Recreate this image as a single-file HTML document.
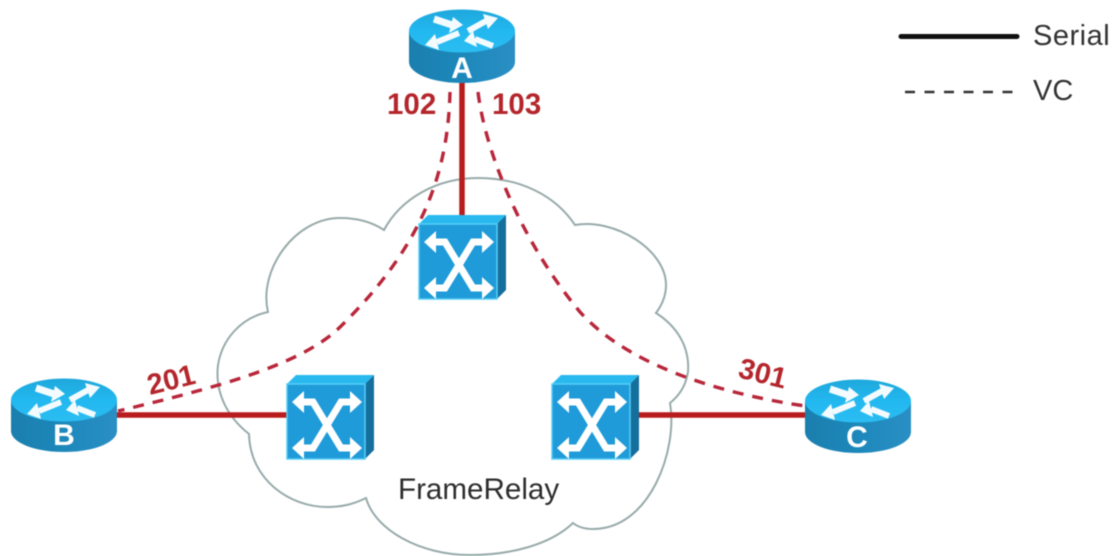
<!DOCTYPE html>
<html><head><meta charset="utf-8"><style>
html,body{margin:0;padding:0;background:#fff;width:1114px;height:556px;overflow:hidden}
svg{display:block;filter:blur(.6px)}
text{font-family:"Liberation Sans",sans-serif}
.r{font-size:29.5px;font-weight:bold;fill:#b4262c}
.w{font-size:30px;font-weight:bold;fill:#fff;text-anchor:middle}
.k{font-size:29px;fill:#333}
</style></head><body>
<svg width="1114" height="556" viewBox="0 0 1114 556" xmlns="http://www.w3.org/2000/svg">
<defs>
<linearGradient id="rt" x1="0" y1="0" x2="0" y2="1"><stop offset="0" stop-color="#1fa8dc"/><stop offset=".5" stop-color="#22b8f0"/><stop offset="1" stop-color="#2bbdf2"/></linearGradient>
<linearGradient id="rs" x1="0" y1="0" x2="1" y2="0"><stop offset="0" stop-color="#1b7fae"/><stop offset=".5" stop-color="#1d88bb"/><stop offset="1" stop-color="#2a8fc4"/></linearGradient>
<g id="router">
<path d="M-53,0 V31 A53,21 0 0 0 53,31 V0 Z" fill="url(#rs)"/>
<ellipse cx="0" cy="0" rx="53" ry="21.5" fill="url(#rt)"/>
<g fill="#f4fbff" stroke="#f4fbff">
<path d="M-28,-12 L-10,-6" stroke-width="7" fill="none"/>
<polygon points="1,-6 -13,2 -9,-14" stroke="none"/>
<path d="M6,0 L24,-10" stroke-width="6" fill="none"/>
<polygon points="36,-13 26,-2 21,-17" stroke="none"/>
<path d="M-25,11 L-3,2" stroke-width="6" fill="none"/>
<polygon points="-37,14 -23,19 -27,3" stroke="none"/>
<path d="M13,8 L31,15" stroke-width="6" fill="none"/>
<polygon points="2,10 15,16 11,0" stroke="none"/>
</g>
</g>
<g id="switch">
<polygon points="0,0 9,-9 87,-9 78,0" fill="#29b9ef"/>
<polygon points="78,0 87,-9 87,66 78,75" fill="#146f9d"/>
<rect x="0" y="0" width="78" height="75" fill="#1f9bd9" stroke="#56cdf5" stroke-width="1.5"/>
<path d="M12,18 H26 L40,41 L54,64 H68 M12,64 H26 L40,41 L54,18 H68" fill="none" stroke="#fff" stroke-width="7" stroke-linejoin="miter"/>
<g fill="#fff">
<polygon points="5,18 17,7 17,29"/>
<polygon points="75,18 63,7 63,29"/>
<polygon points="5,64 17,53 17,75"/>
<polygon points="75,64 63,53 63,75"/>
</g>
</g>
</defs>
<rect width="1114" height="556" fill="#fff"/>
<path d="M384,230 C400,200 435,178 478,178 C520,178 555,195 575,225 C615,218 666,250 666,285 C666,295 662,305 656,313 C675,325 690,345 688,372 C686,385 680,395 670,403 C678,450 650,529 593,529 C585,529 578,527 573,523 C550,545 510,555 470,555 C420,555 375,530 366,498 C352,505 340,507 327,507 C290,507 250,480 249,434 C225,415 215,390 218,365 C222,340 240,318 268,312 C258,270 295,218 340,218 C358,218 372,222 384,230 Z" fill="#fff" stroke="#98aaaa" stroke-width="2"/>
<g fill="none" stroke="#b8263a" stroke-width="3.4" stroke-dasharray="11 9">
<path d="M450,92 C448,170 425,245 337,330 C297,366 215,388 118,411"/>
<path d="M478,92 C485,150 520,240 580,312 C625,362 710,392 805,406"/>
</g>
<g stroke="#b91c1c" stroke-width="5.5" fill="none">
<path d="M462,80 V216"/>
<path d="M116,415 H288"/>
<path d="M638,415 H806"/>
</g>
<use href="#router" x="462" y="31"/>
<use href="#router" x="64" y="400"/>
<use href="#router" x="858" y="401"/>
<use href="#switch" x="419" y="224"/>
<use href="#switch" x="287" y="384"/>
<use href="#switch" x="552" y="384"/>
<text class="w" x="462" y="78">A</text>
<text class="w" x="64" y="445">B</text>
<text class="w" x="857" y="447">C</text>
<text class="r" x="387" y="114">102</text>
<text class="r" x="492" y="114">103</text>
<text class="r" x="0" y="0" style="font-size:29px" transform="translate(150,395) rotate(-14)">201</text>
<text class="r" x="0" y="0" style="font-size:29px" transform="translate(737,377) rotate(14)">301</text>
<text x="398" y="499" style="font-size:29.6px" fill="#2e2e2e">FrameRelay</text>
<path d="M901,36.5 H1017" stroke="#111" stroke-width="5" stroke-linecap="round"/>
<path d="M905,92 H1018" stroke="#333" stroke-width="2.4" stroke-dasharray="10 9.5" fill="none"/>
<text class="k" x="1033" y="45" style="letter-spacing:.5px">Serial</text>
<text class="k" x="1033" y="100">VC</text>
</svg>
</body></html>
